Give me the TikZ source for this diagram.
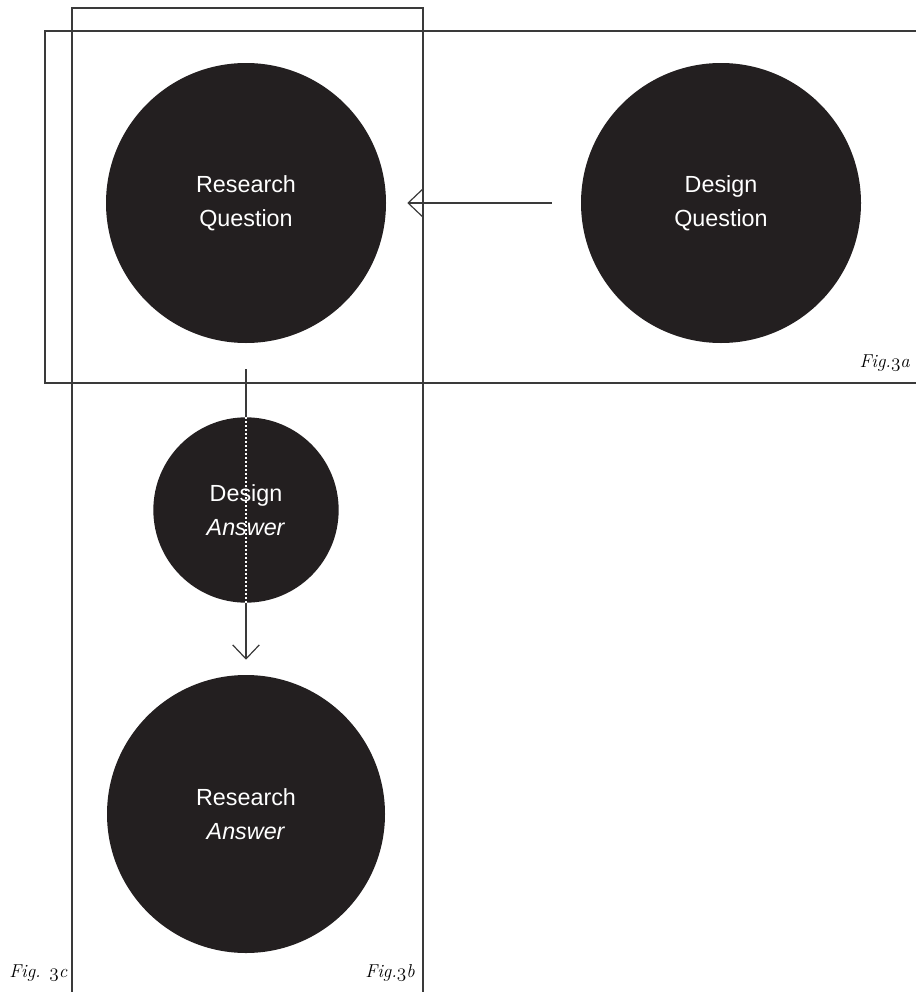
\documentclass[tikz,border=0pt]{standalone}
\usepackage{fontspec}
\setsansfont{Liberation Sans}
\usetikzlibrary{arrows.meta}

\definecolor{ink}{HTML}{231F20}
\definecolor{rulegray}{HTML}{3A3A3A}

% old-style figures for the figure tags
\newcommand\osfig[1]{{\usefont{OML}{lmm}{m}{it}#1}}

\tikzset{
  frame/.style={draw=rulegray, line width=1pt},
  blob/.style={circle, fill=ink, text=white, align=center, inner sep=0pt,
               font=\sffamily\fontsize{17.5}{25.5}\selectfont},
  link/.style={draw=rulegray, line width=0.9pt,
               -{Straight Barb[length=10.5pt, width=20pt, line width=0.9pt]}},
  figtag/.style={font=\itshape\fontsize{14}{16}\selectfont, inner sep=0pt}
}

\begin{document}
\begin{tikzpicture}[x=0.75pt, y=-0.75pt]
\useasboundingbox (0,0) rectangle (915,992);

% Frames — Fig. 3a (wide) and Fig. 3b (tall)
\draw[frame] (45,31) rectangle (930,383);
\draw[frame] (72,8) rectangle (423,1010);

% Questions and answers
\node[blob, minimum size=210pt] (rq) at (246,203) {Research\\Question};
\node[blob, minimum size=210pt] (dq) at (721,203) {Design\\Question};
\node[blob, minimum size=208.5pt] (ra) at (246,814) {Research\\\textit{Answer}};

% Design question feeds the research question
\draw[link, shorten <=21.75pt, shorten >=15.75pt] (dq) -- (rq);

% Research question down to research answer
\draw[link, shorten <=19.5pt, shorten >=11.25pt] (rq) -- (ra);

% Design answer sits on the vertical line
\node[blob, minimum size=139pt] (da) at (246,510) {Design\\\textit{Answer}};
\draw[white, line width=0.8pt, dash pattern=on 1.5pt off 1.5pt] (da.north) -- (da.south);

% Figure tags
\node[figtag, anchor=base east] (tag3a) at (910,367) {Fig.\osfig{3}a};
\node[figtag, anchor=base east] (tag3b) at (415,977) {Fig.\osfig{3}b};
\node[figtag, anchor=base west] (tag3c) at (9,977) {Fig. \osfig{3}c};

\end{tikzpicture}
\end{document}
